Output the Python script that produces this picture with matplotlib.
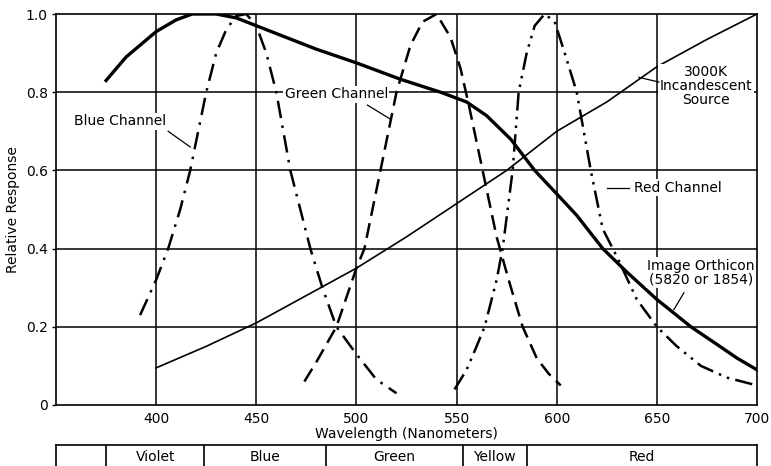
import numpy as np
import matplotlib.pyplot as plt

plt.rcParams['font.family'] = ['Liberation Sans Narrow', 'DejaVu Sans']

# Image orthicon response (thick solid)
orth_nm = [375, 385, 400, 410, 418, 430, 440, 450, 465, 480, 500, 522, 542, 555,
           565, 577, 589, 600, 610, 623, 635, 650, 667, 680, 690, 700]
orth_val = [0.83, 0.89, 0.955, 0.985, 1.0, 1.0, 0.99, 0.97, 0.94, 0.91, 0.875, 0.833, 0.80, 0.775,
            0.74, 0.68, 0.60, 0.54, 0.485, 0.40, 0.34, 0.27, 0.20, 0.155, 0.12, 0.09]

# 3000K incandescent source (thin solid)
lamp_nm = [400, 425, 450, 475, 500, 525, 550, 575, 600, 625, 650, 675, 700]
lamp_val = [0.095, 0.15, 0.21, 0.28, 0.35, 0.43, 0.515, 0.60, 0.70, 0.775, 0.865, 0.935, 1.0]

# channels
blue_nm = [392, 400, 406, 412, 417, 421, 425, 430, 435, 440, 445, 450, 455, 460, 467,
           472, 477, 483, 490, 500, 510, 520]
blue_val = [0.23, 0.32, 0.4, 0.5, 0.6, 0.7, 0.8, 0.9, 0.96, 0.995, 1.0, 0.97, 0.9, 0.8, 0.6,
            0.5, 0.4, 0.3, 0.2, 0.13, 0.065, 0.03]

green_nm = [474, 480, 490, 500, 504, 512, 520, 527, 533, 540, 547, 552, 556, 563, 570,
            576, 583, 590, 596, 602]
green_val = [0.06, 0.11, 0.2, 0.35, 0.4, 0.6, 0.8, 0.92, 0.98, 1.0, 0.94, 0.86, 0.77, 0.6, 0.43,
             0.32, 0.2, 0.12, 0.08, 0.05]

red_nm = [549, 555, 560, 564, 570, 573, 578, 581, 585, 589, 594, 599, 604, 610, 617,
          623, 630, 640, 650, 660, 672, 685, 700]
red_val = [0.04, 0.09, 0.15, 0.2, 0.32, 0.4, 0.6, 0.8, 0.9, 0.97, 1.0, 0.98, 0.9, 0.8, 0.6,
           0.45, 0.38, 0.27, 0.2, 0.15, 0.1, 0.07, 0.05]

# color bands under the axis
band_edges = [350, 375, 424, 485, 553, 585, 700]
band_names = ['', 'Violet', 'Blue', 'Green', 'Yellow', 'Red']

fig = plt.figure(figsize=(7.71, 4.66), dpi=100)
ax = fig.add_axes([56/771, 1 - 405/466, 701/771, 391/466])

ax.set_xlim(350, 700)
ax.set_ylim(0, 1.0)
for x in [400, 450, 500, 550, 600, 650]:
    ax.axvline(x, color='black', lw=1.1, zorder=1)
for y in [0.2, 0.4, 0.6, 0.8]:
    ax.axhline(y, color='black', lw=1.1, zorder=1)

ax.plot(orth_nm, orth_val, color='black', lw=2.4, zorder=3)
ax.plot(lamp_nm, lamp_val, color='black', lw=1.2, zorder=3)
ax.plot(blue_nm, blue_val, color='black', lw=1.8, dashes=(7, 3, 1, 3), zorder=3)
ax.plot(green_nm, green_val, color='black', lw=1.8, dashes=(6, 3), zorder=3)
ax.plot(red_nm, red_val, color='black', lw=1.8, dashes=(7, 2.5, 1, 2.5, 1, 2.5), zorder=3)

ax.set_xticks([400, 450, 500, 550, 600, 650, 700])
ax.set_yticks([0, 0.2, 0.4, 0.6, 0.8, 1.0])
ax.set_yticklabels(['0', '0.2', '0.4', '0.6', '0.8', '1.0'])
ax.tick_params(axis='x', length=0, pad=5, labelsize=10)
ax.tick_params(axis='y', length=3, width=1, pad=3, labelsize=10)
for s in ax.spines.values():
    s.set_linewidth(1.2)
ax.set_xlabel('Wavelength (Nanometers)', fontsize=10, labelpad=1)
ax.set_ylabel('Relative Response', fontsize=10, labelpad=4)

box = dict(facecolor='white', edgecolor='none', pad=1)
ax.text(382, 0.726, 'Blue Channel', ha='center', va='center', fontsize=10, bbox=box, zorder=4)
ax.plot([406, 417], [0.70, 0.66], color='black', lw=0.9, zorder=4)
ax.text(490, 0.795, 'Green Channel', ha='center', va='center', fontsize=10, bbox=box, zorder=4)
ax.plot([505.5, 517], [0.767, 0.731], color='black', lw=0.9, zorder=4)
ax.text(674.5, 0.815, '3000K\nIncandescent\nSource', ha='center', va='center', fontsize=10,
        linespacing=1.0, bbox=box, zorder=4)
ax.plot([651, 641], [0.826, 0.838], color='black', lw=0.9, zorder=4)
ax.text(638.5, 0.556, 'Red Channel', ha='left', va='center', fontsize=10, bbox=box, zorder=4)
ax.plot([636, 625], [0.556, 0.556], color='black', lw=0.9, zorder=4)
ax.text(672, 0.338, 'Image Orthicon\n(5820 or 1854)', ha='center', va='center', fontsize=10,
        linespacing=1.0, bbox=box, zorder=4)
ax.plot([663.5, 658.5], [0.287, 0.244], color='black', lw=0.9, zorder=4)

# band strip
bx = fig.add_axes([56/771, -0.05, 701/771, 0.05 + 1 - 445/466])
bx.set_xlim(350, 700)
bx.set_ylim(0, 1)
bx.set_xticks([])
bx.set_yticks([])
for s in bx.spines.values():
    s.set_linewidth(1.2)
for x in band_edges[1:-1]:
    bx.axvline(x, color='black', lw=1.2)
for i, name in enumerate(band_names):
    mid = (band_edges[i] + band_edges[i + 1]) / 2
    bx.text(mid, 0.72, name, ha='center', va='center', fontsize=10)

fig.savefig('out.png', dpi=100)
